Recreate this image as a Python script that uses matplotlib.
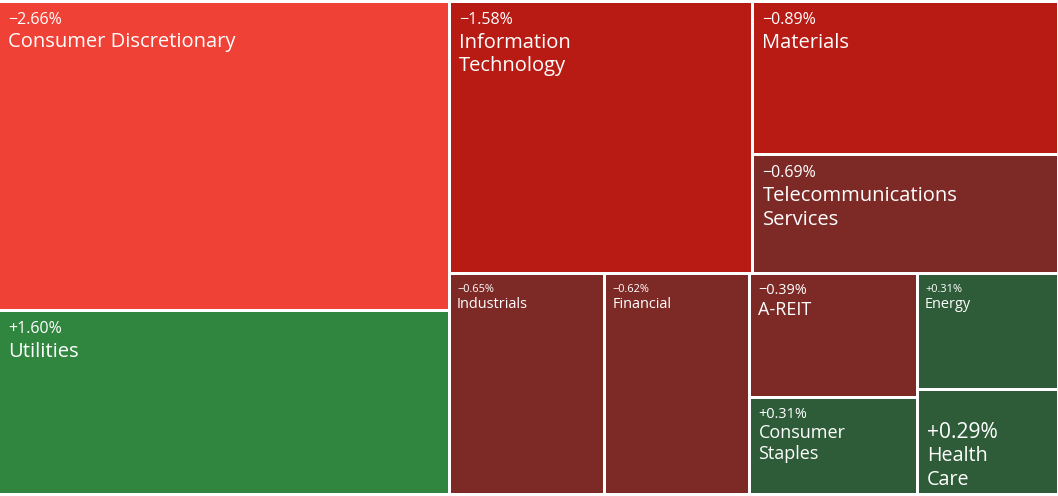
import matplotlib
matplotlib.use("Agg")
import matplotlib.pyplot as plt
from matplotlib.patches import Rectangle

# ---------------- data ----------------
sectors = ["Consumer Discretionary", "Utilities", "Information\nTechnology",
           "Materials", "Telecommunications\nServices", "Industrials",
           "Financial", "A-REIT", "Consumer\nStaples", "Energy", "Health\nCare"]
weights = [26.67, 15.88, 15.82, 8.95, 6.98, 6.56, 6.12, 3.96, 3.11, 3.12, 2.83]
changes = [-2.66, 1.60, -1.58, -0.89, -0.69, -0.65, -0.62, -0.39, 0.31, 0.31, 0.29]

# ---------------- styles ----------------
W_PX, H_PX, DPI = 1058, 496, 100
LAYOUT_ASPECT = 1.66          # aspect of the space in which the binary layout is computed
GAP = 3.0                     # white gap between tiles (px)
AREA = (0.0, 3.0, 1057.0, 493.0)  # outer tile area (px)
FONT = ["Open Sans", "DejaVu Sans"]

TIERS = {
    "large":  dict(pct=16.0, name=20.2, off=20.5, gap=24.0, line=24.0, pad=8.0),
    "medium": dict(pct=14.5, name=18.0, off=19.0, gap=20.5, line=20.5, pad=7.0),
    "small":  dict(pct=11.0, name=14.5, off=16.5, gap=16.5, line=16.0, pad=6.0),
    "hero":   dict(pct=21.0, name=19.8, off=None, gap=23.0, line=24.0, pad=8.0, bottom=8.0),
}
LABEL_TIER = {"Industrials": "small", "Financial": "small", "Energy": "small",
              "A-REIT": "medium", "Consumer\nStaples": "medium", "Health\nCare": "hero"}


def tile_color(c):
    if c <= -2.0:
        return "#EF4136"
    if c <= -0.75:
        return "#B81B14"
    if c < 0:
        return "#7D2A27"
    if c < 1.0:
        return "#2E5C38"
    return "#30853F"


def binary_treemap(values, x0, y0, x1, y1):
    """d3.treemapBinary"""
    n = len(values)
    sums = [0.0]
    for v in values:
        sums.append(sums[-1] + v)
    rects = [None] * n

    def part(i, j, value, x0, y0, x1, y1):
        if i >= j - 1:
            rects[i] = (x0, y0, x1, y1)
            return
        offset = sums[i]
        target = value / 2 + offset
        k, hi = i + 1, j - 1
        while k < hi:
            mid = (k + hi) // 2
            if sums[mid] < target:
                k = mid + 1
            else:
                hi = mid
        if (target - sums[k - 1]) < (sums[k] - target) and i + 1 < k:
            k -= 1
        vl = sums[k] - offset
        vr = value - vl
        if (x1 - x0) > (y1 - y0):
            xk = (x0 * vr + x1 * vl) / value
            part(i, k, vl, x0, y0, xk, y1)
            part(k, j, vr, xk, y0, x1, y1)
        else:
            yk = (y0 * vr + y1 * vl) / value
            part(i, k, vl, x0, y0, x1, yk)
            part(k, j, vr, x0, yk, x1, y1)

    part(0, n, sums[-1], x0, y0, x1, y1)
    return rects


fig = plt.figure(figsize=(W_PX / DPI, H_PX / DPI), dpi=DPI)
fig.patch.set_facecolor("white")
ax = fig.add_axes([0, 0, 1, 1])
ax.set_xlim(0, W_PX)
ax.set_ylim(H_PX, 0)
ax.axis("off")

rects = binary_treemap(weights, 0.0, 0.0, LAYOUT_ASPECT, 1.0)
ax0, ay0, ax1, ay1 = AREA
h = GAP / 2
sx = (ax1 - ax0 + GAP) / LAYOUT_ASPECT
sy = (ay1 - ay0 + GAP)
PT = 72.0 / DPI

for name, chg, (rx0, ry0, rx1, ry1) in zip(sectors, changes, rects):
    X0 = ax0 - h + rx0 * sx + h
    X1 = ax0 - h + rx1 * sx - h
    Y0 = ay0 - h + ry0 * sy + h
    Y1 = ay0 - h + ry1 * sy - h
    ax.add_patch(Rectangle((X0, Y0), X1 - X0, Y1 - Y0, facecolor=tile_color(chg),
                           edgecolor="none"))
    t = TIERS[LABEL_TIER.get(name, "large")]
    lines = name.split("\n")
    pct = ("+" if chg > 0 else "\u2212") + f"{abs(chg):.2f}%"
    if t["off"] is None:
        last = Y1 - t["bottom"]
        first_name = last - t["line"] * (len(lines) - 1)
        pct_base = first_name - t["gap"]
    else:
        pct_base = Y0 + t["off"]
        first_name = pct_base + t["gap"]
    tx = X0 + t["pad"]
    ax.text(tx, pct_base, pct, color="white", fontsize=t["pct"] * PT,
            family=FONT, va="baseline", ha="left")
    for li, ln in enumerate(lines):
        ax.text(tx, first_name + li * t["line"], ln, color="white",
                fontsize=t["name"] * PT, family=FONT, va="baseline", ha="left")

fig.savefig("out.png", dpi=DPI, facecolor="white")
